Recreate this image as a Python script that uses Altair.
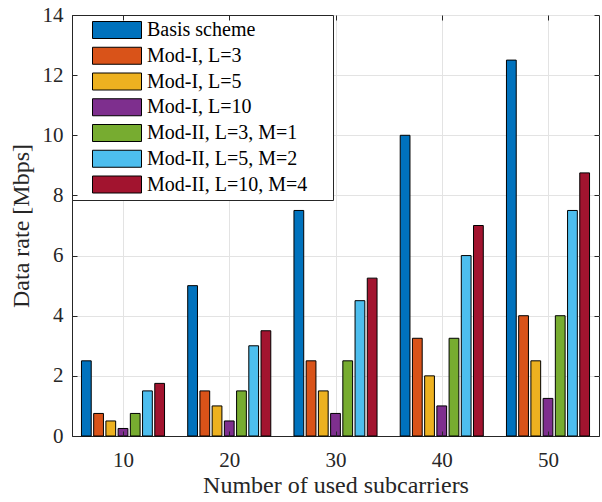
import altair as alt
import pandas as pd

# ---- data ----
categories = [10, 20, 30, 40, 50]
series = ["Basis scheme", "Mod-I, L=3", "Mod-I, L=5", "Mod-I, L=10",
          "Mod-II, L=3, M=1", "Mod-II, L=5, M=2", "Mod-II, L=10, M=4"]
basis = [2.5, 5.0, 7.5, 10.0, 12.5]
mod1_l3 = [0.75, 1.5, 2.5, 3.25, 4.0]
mod1_l5 = [0.5, 1.0, 1.5, 2.0, 2.5]
mod1_l10 = [0.25, 0.5, 0.75, 1.0, 1.25]
mod2_l3 = [0.75, 1.5, 2.5, 3.25, 4.0]
mod2_l5 = [1.5, 3.0, 4.5, 6.0, 7.5]
mod2_l10 = [1.75, 3.5, 5.25, 7.0, 8.75]
colors = ["#0072BD", "#D95319", "#EDB120", "#7E2F8E", "#77AC30", "#4DBEEE", "#A2142F"]
y_ticks = [0, 2, 4, 6, 8, 10, 12, 14]

values = [basis, mod1_l3, mod1_l5, mod1_l10, mod2_l3, mod2_l5, mod2_l10]

# grouped-bar geometry (in x data units)
slot = 1.15
half_w = 0.46
rows = []
for i, (name, vals) in enumerate(zip(series, values)):
    for c, v in zip(categories, vals):
        center = c + (i - 3) * slot
        rows.append({"series": name, "cat": c, "x0": center - half_w,
                     "x1": center + half_w, "value": v})
df = pd.DataFrame(rows)

W, H = 527, 421
FONT = "Liberation Serif"
TXT = "#262626"

xscale = alt.Scale(domain=[5.2, 54.8], nice=False, zero=False)
yscale = alt.Scale(domain=[0, 14], nice=False)

sym_path = "M-1,-1 L4.765,-1 L4.765,1 L-1,1 Z M26.4,0"

bars = alt.Chart(df).mark_rect(stroke="black", strokeWidth=1).encode(
    x=alt.X("x0:Q", scale=xscale,
            axis=alt.Axis(values=categories, format="d", title="Number of used subcarriers",
                          grid=True, ticks=False, domain=True, domainColor=TXT,
                          labelPadding=13, titlePadding=3, orient="bottom")),
    x2="x1:Q",
    y=alt.Y("value:Q", scale=yscale,
            axis=alt.Axis(values=y_ticks, title="Data rate [Mbps]", grid=True, ticks=False,
                          domain=True, domainColor=TXT, labelPadding=9, titlePadding=9,
                          orient="left")),
    y2=alt.datum(0),
    color=alt.Color("series:N", scale=alt.Scale(domain=series, range=colors),
                    sort=series,
                    legend=alt.Legend(title=None, orient="none", legendX=0, legendY=0,
                                      symbolType=sym_path, symbolSize=289,
                                      symbolStrokeColor="black", symbolStrokeWidth=1,
                                      symbolOpacity=1, symbolOffset=14,
                                      labelFont=FONT, labelFontSize=20, labelColor="black",
                                      labelOffset=36, labelLimit=400, rowPadding=3.75,
                                      padding=5, strokeColor=TXT, fillColor="white",
                                      cornerRadius=0)),
)

tick_ax = dict(labels=False, ticks=True, tickSize=5, tickColor=TXT, domain=False,
               grid=False, title=None, zindex=1)

ticks_a = alt.Chart(df).mark_rect(opacity=0).encode(
    x=alt.X("x0:Q", scale=xscale,
            axis=alt.Axis(values=categories, orient="top", offset=-H, **tick_ax)),
    x2="x1:Q",
    y=alt.Y("value:Q", scale=yscale,
            axis=alt.Axis(values=y_ticks, orient="right", offset=-W, **tick_ax)),
    y2=alt.datum(0),
)
ticks_b = alt.Chart(df).mark_rect(opacity=0).encode(
    x=alt.X("x0:Q", scale=xscale,
            axis=alt.Axis(values=categories, orient="bottom", offset=-H, **tick_ax)),
    x2="x1:Q",
    y=alt.Y("value:Q", scale=yscale,
            axis=alt.Axis(values=y_ticks, orient="left", offset=-W, **tick_ax)),
    y2=alt.datum(0),
)

chart = alt.layer(bars, ticks_a, ticks_b).resolve_axis(
    x="independent", y="independent"
).properties(
    width=W, height=H,
    autosize=alt.AutoSizeParams(type="none"),
    padding={"left": 72, "top": 15, "right": 3, "bottom": 66},
    background="white",
).configure_view(
    stroke=TXT, strokeWidth=1
).configure_axis(
    labelFont=FONT, labelFontSize=21, labelColor=TXT,
    titleFont=FONT, titleFontSize=24, titleFontWeight="normal", titleColor=TXT,
    gridColor="#e3e3e3", gridWidth=1,
)

chart.save("out.html", embed_options={"renderer": "svg", "actions": False})
